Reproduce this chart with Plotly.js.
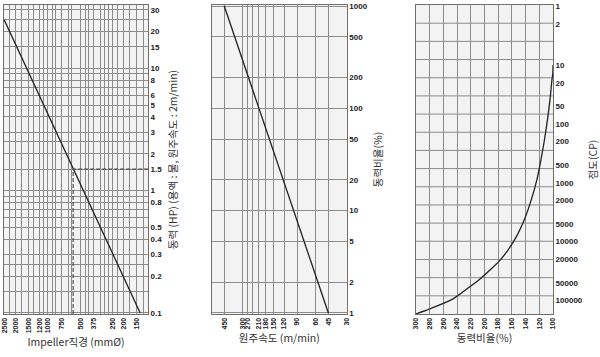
<!DOCTYPE html>
<html><head><meta charset="utf-8">
<script src="https://cdn.plot.ly/plotly-3.0.1.min.js"></script>
<style>html,body{margin:0;padding:0;background:#fff}</style></head>
<body>
<div id="chart" style="width:600px;height:357px"></div>
<script>
// ---------- Panel 1 : Impeller diameter vs power ----------
const impDiameter = [2550, 140];
const impPower = [25, 0.1];
const refDiameter = 585;
const refPower = 1.5;
const impTicks = [2500, 2000, 1500, 1200, 1000, 750, 500, 375, 250, 200, 150];
const impMinor = [2250, 1750, 1350, 1100, 900, 850, 650, 600, 450, 425, 325, 300, 275, 225, 175, 130];
const powerTicks = [30, 20, 15, 10, 8, 6, 5, 4, 3, 2, 1.5, 1, 0.8, 0.5, 0.4, 0.3, 0.2, 0.1];
const powerTickText = ['30', '20', '15', '10', '8', '6', '5', '4', '3', '2', '1.5', '1', '0.8', '0.5', '0.4', '0.3', '0.2', '0.1'];
const powerMinor = [25, 9, 7, 2.5, 0.9, 0.7, 0.6, 0.25, 0.15];

// ---------- Panel 2 : peripheral speed vs power ratio ----------
const speed = [450, 45];
const speedRatio = [1000, 1];
const speedTicks = [450, 300, 270, 210, 180, 150, 120, 90, 60, 45, 30];
const speedMinor = [240];
const ratioTicks = [1000, 500, 200, 100, 50, 20, 10, 5, 2, 1];

// ---------- Panel 3 : power ratio vs viscosity ----------
const viscRatio = [100, 100.3, 101.5, 104.4, 108, 112.4, 117.5, 123.4, 131.4, 141.6, 155.5, 175.9, 190.5, 206.6, 225.5, 246, 279.6, 300];
const viscosity = [10, 14, 17.7, 38.7, 84, 184, 400, 875, 1900, 4160, 9060, 19800, 29200, 43100, 63500, 94000, 138700, 168600];
const pctTicks = [300, 280, 260, 240, 220, 200, 180, 160, 140, 120, 100];
const viscTicks = [1, 2, 10, 20, 50, 100, 200, 500, 1000, 2000, 5000, 10000, 20000, 50000, 100000];
const viscGridRows = 17;   // the viscosity panel is ruled in 17 equal rows

const L = Math.log10;
const xMin1 = 118.5, xMax1 = 2554, yMin1 = 0.098, yMax1 = 32.9;
const pctRange = [300, 100];
const viscRange = [5.23, -0.02];   // log10 range, reversed (1 cP at top)

// evenly spaced horizontal rulings of the viscosity panel (style only, from the axis range)
const rulingX = [], rulingY = [];
for (let k = 1; k < viscGridRows; k++) {
  const v = Math.pow(10, viscRange[0] + (viscRange[1] - viscRange[0]) * k / viscGridRows);
  rulingX.push(pctRange[0], pctRange[1], null);
  rulingY.push(v, v, null);
}

const tickFont = {family: 'Liberation Sans, Arial, sans-serif', size: 8, color: '#222', weight: 'bold'};
const xTickFont = {family: 'Liberation Sans, Arial, sans-serif', size: 7, color: '#222', weight: 'bold'};
const titleFont = {family: 'Noto Sans CJK KR, sans-serif', size: 10.5, color: '#333'};
const gridC = '#8c8c8c', borderC = '#6e6e6e';
const yDom = [1 - 314/357, 1 - 5/357];

function xAx(dom, range, vals, minorVals, title, anchor, type) {
  const a = {
    domain: dom, range: range, type: type, anchor: anchor,
    tickmode: 'array', tickvals: vals, ticktext: vals.map(String),
    tickangle: -90, tickfont: xTickFont, ticks: '',
    showgrid: true, gridcolor: gridC, gridwidth: 1,
    showline: true, linecolor: borderC, linewidth: 1, mirror: true,
    zeroline: false, fixedrange: true,
    title: {text: title, font: titleFont, standoff: 6}
  };
  if (minorVals) a.minor = {tickmode: 'array', tickvals: minorVals, showgrid: true, gridcolor: gridC, gridwidth: 1, ticks: ''};
  return a;
}
function yAx(range, vals, text, minorVals, title, anchor, type, grid) {
  const a = {
    domain: yDom, range: range, type: type, anchor: anchor, side: 'right',
    tickmode: 'array', tickvals: vals, ticktext: text,
    tickfont: tickFont, ticks: '',
    showgrid: grid, gridcolor: gridC, gridwidth: 1,
    showline: true, linecolor: borderC, linewidth: 1, mirror: true,
    zeroline: false, fixedrange: true,
    title: {text: title, font: titleFont, standoff: 8}
  };
  if (minorVals) a.minor = {tickmode: 'array', tickvals: minorVals, showgrid: true, gridcolor: gridC, gridwidth: 1, ticks: ''};
  return a;
}

const lineStyle = {color: '#222', width: 1.3};
const traces = [
  {x: impDiameter, y: impPower, xaxis: 'x', yaxis: 'y', mode: 'lines', line: lineStyle, hoverinfo: 'skip'},
  {x: [refDiameter, refDiameter, xMin1], y: [yMin1, refPower, refPower], xaxis: 'x', yaxis: 'y',
   mode: 'lines', line: {color: '#333', width: 1, dash: '4px,2px'}, hoverinfo: 'skip'},
  {x: speed, y: speedRatio, xaxis: 'x2', yaxis: 'y2', mode: 'lines', line: lineStyle, hoverinfo: 'skip'},
  {x: rulingX, y: rulingY, xaxis: 'x3', yaxis: 'y3', mode: 'lines', connectgaps: false,
   line: {color: gridC, width: 1}, hoverinfo: 'skip'},
  {x: viscRatio, y: viscosity, xaxis: 'x3', yaxis: 'y3', mode: 'lines',
   line: Object.assign({shape: 'spline', smoothing: 0.8}, lineStyle), hoverinfo: 'skip'}
];

const layout = {
  width: 600, height: 357, autosize: false,
  margin: {l: 0, r: 0, t: 0, b: 0},
  paper_bgcolor: '#ffffff', plot_bgcolor: '#f3f3f3',
  showlegend: false,
  xaxis: xAx([4/600, 148/600], [L(xMax1), L(xMin1)], impTicks, impMinor, 'Impeller직경 (mmØ)', 'y', 'log'),
  yaxis: yAx([L(yMin1), L(yMax1)], powerTicks, powerTickText, powerMinor, '동력 (HP) (용액 : 물, 원주속도 : 2m/min)', 'x', 'log', true),
  xaxis2: xAx([212/600, 346.7/600], [L(590), L(30)], speedTicks, speedMinor, '원주속도 (m/min)', 'y2', 'log'),
  yaxis2: yAx([-0.01, 3.01], ratioTicks, ratioTicks.map(String), null, '동력비율(%)', 'x2', 'log', true),
  xaxis3: xAx([416/600, 553/600], pctRange, pctTicks, null, '동력비율(%)', 'y3', 'linear'),
  yaxis3: yAx(viscRange, viscTicks, viscTicks.map(String), null, '점도(CP)', 'x3', 'log', false)
};

Plotly.newPlot('chart', traces, layout, {staticPlot: true, displayModeBar: false});
</script>
</body></html>
